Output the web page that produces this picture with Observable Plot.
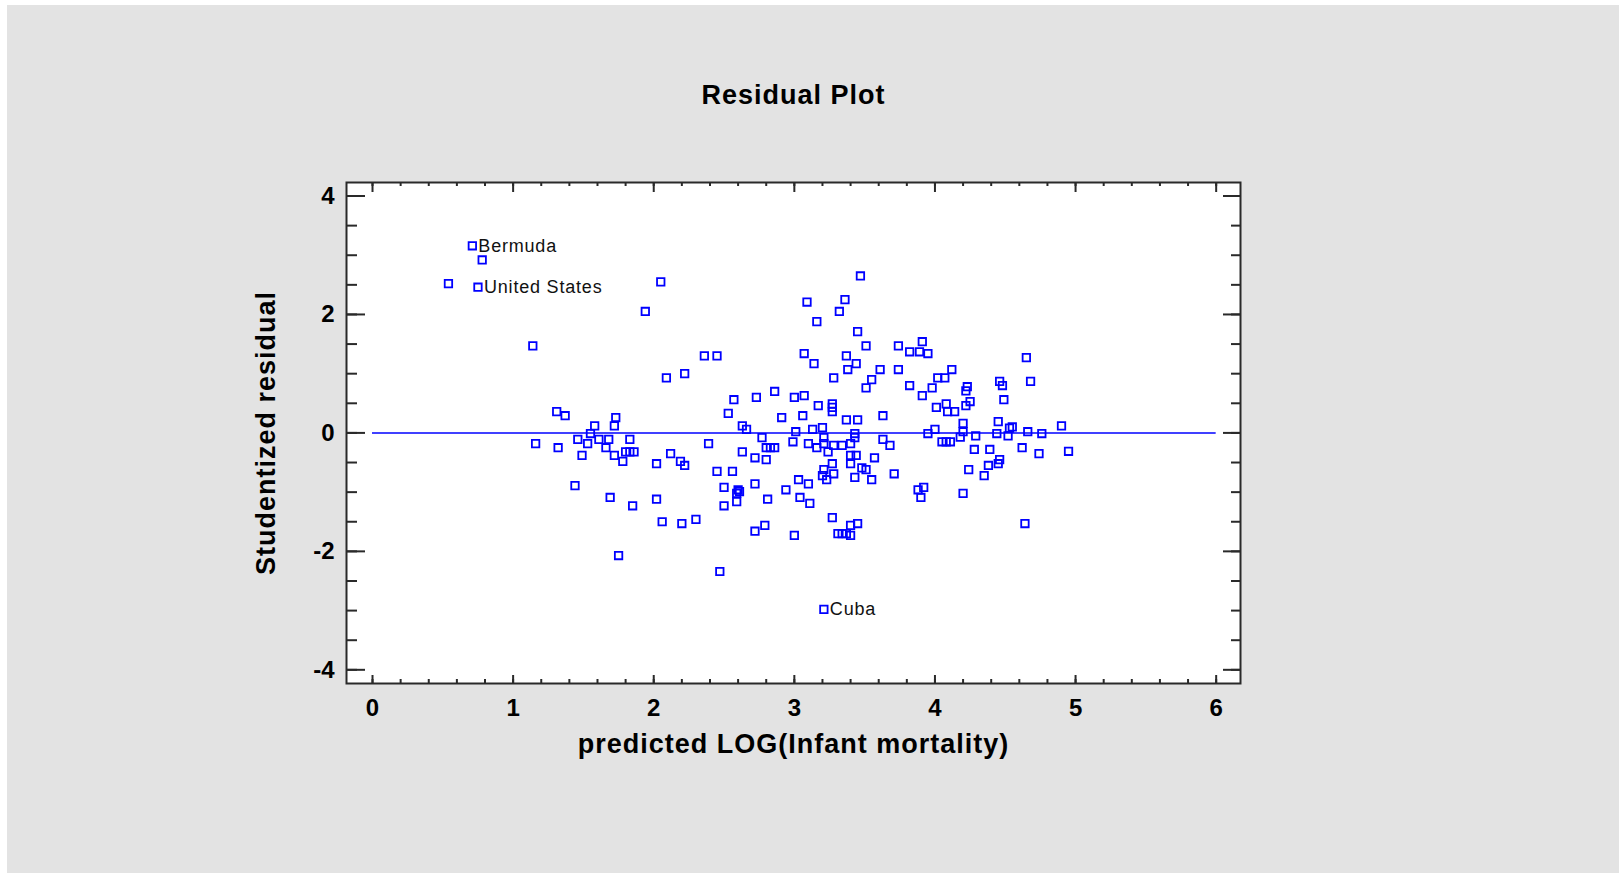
<!DOCTYPE html>
<html>
<head>
<meta charset="utf-8">
<script src="https://cdn.jsdelivr.net/npm/d3@7"></script>
<script src="https://cdn.jsdelivr.net/npm/@observablehq/plot@0.6"></script>
<style>
  html, body { margin: 0; padding: 0; background: #ffffff; }
  #wrap { position: absolute; left: 7px; top: 5px; width: 1612px; height: 868px; background: #e3e3e3; overflow: hidden; }
</style>
</head>
<body>
<div id="wrap"></div>
<script>
// Predicted LOG(Infant mortality) and studentized residuals
const predicted = [
  0.78, 0.54, 1.94, 1.14, 1.31, 1.37, 2.05, 3.47, 3.09, 3.36, 3.32, 3.16, 3.45, 3.51, 3.74, 3.91,
  3.82, 3.89, 3.95, 2.36, 2.45, 3.07, 3.14, 3.37, 3.44, 3.38, 2.09, 2.22, 3.28, 3.61, 3.74, 3.55,
  3.51, 3.82, 3.91, 3.98, 4.02, 4.07, 4.12, 4.01, 4.08, 4.09, 4.14, 2.57, 2.73, 2.86, 3.00, 3.07,
  3.17, 3.27, 3.27, 3.27, 2.53, 2.91, 3.06, 3.37, 3.45, 3.63, 4.65, 4.68, 4.46, 4.48, 4.49, 4.23,
  4.22, 4.25, 4.22, 4.20, 4.45, 4.90, 4.55, 4.53, 4.20, 4.18, 4.29, 4.44, 4.52, 4.66, 4.76, 4.00,
  3.95, 4.05, 4.08, 4.11, 4.28, 4.39, 4.62, 4.74, 4.95, 4.46, 4.45, 4.38, 4.24, 4.35, 4.20, 4.64,
  3.63, 3.68, 3.71, 3.92, 3.88, 3.90, 2.63, 2.66, 3.01, 3.13, 3.20, 3.43, 3.43, 2.39, 2.77, 2.80,
  2.83, 2.86, 2.99, 3.10, 3.16, 3.21, 3.21, 3.24, 3.28, 3.34, 3.40, 3.40, 3.44, 2.63, 2.72, 2.80,
  3.40, 3.27, 3.57, 3.21, 3.28, 3.20, 3.23, 3.48, 3.51, 3.43, 3.55, 2.45, 2.56, 2.72, 2.50, 2.60,
  2.59, 2.61, 3.03, 3.10, 2.94, 2.59, 2.50, 2.81, 3.04, 3.11, 3.27, 2.72, 2.79, 3.00, 3.31, 3.34,
  3.37, 3.40, 3.45, 3.40, 2.47, 1.58, 1.55, 1.73, 1.72, 1.16, 1.32, 1.46, 1.53, 1.61, 1.68, 1.83,
  1.49, 1.66, 1.72, 1.78, 1.80, 1.83, 1.86, 2.02, 2.12, 2.19, 2.22, 1.44, 1.69, 1.85, 2.02, 2.06,
  2.20, 2.30, 1.75
];
const residual = [
  2.92, 2.52, 2.05, 1.47, 0.36, 0.29, 2.55, 2.65, 2.21, 2.25, 2.05, 1.88, 1.71, 1.47, 1.47, 1.54,
  1.37, 1.37, 1.34, 1.30, 1.30, 1.34, 1.17, 1.30, 1.17, 1.07, 0.93, 1.00, 0.93, 1.07, 1.07, 0.90,
  0.76, 0.80, 0.63, 0.76, 0.93, 0.93, 1.07, 0.43, 0.49, 0.36, 0.36, 0.56, 0.60, 0.70, 0.60, 0.63,
  0.46, 0.49, 0.43, 0.36, 0.33, 0.26, 0.29, 0.22, 0.22, 0.29, 1.27, 0.87, 0.87, 0.80, 0.56, 0.78,
  0.71, 0.53, 0.46, 0.16, 0.19, 0.12, 0.10, 0.08, 0.02, -0.07, -0.05, -0.01, -0.05, 0.02, -0.01, 0.06,
  -0.01, -0.15, -0.15, -0.15, -0.28, -0.28, -0.25, -0.35, -0.31, -0.45, -0.52, -0.55, -0.62, -0.72, -1.02, -1.53,
  -0.11, -0.21, -0.69, -0.92, -0.96, -1.09, 0.12, 0.06, 0.02, 0.06, 0.09, -0.01, -0.08, -0.18, -0.08, -0.25,
  -0.25, -0.25, -0.15, -0.18, -0.25, -0.08, -0.18, -0.32, -0.21, -0.21, -0.18, -0.38, -0.38, -0.32, -0.42, -0.45,
  -0.52, -0.52, -0.42, -0.62, -0.69, -0.72, -0.79, -0.59, -0.62, -0.75, -0.79, -0.65, -0.65, -0.86, -0.92, -0.96,
  -1.02, -0.99, -0.79, -0.86, -0.96, -1.16, -1.23, -1.12, -1.09, -1.19, -1.43, -1.66, -1.56, -1.73, -1.70, -1.70,
  -1.70, -1.56, -1.53, -1.73, -2.34, 0.12, -0.01, 0.26, 0.12, -0.18, -0.25, -0.11, -0.18, -0.11, -0.11, -0.11,
  -0.38, -0.25, -0.38, -0.48, -0.32, -0.32, -0.32, -0.52, -0.35, -0.48, -0.55, -0.89, -1.09, -1.23, -1.12, -1.50,
  -1.53, -1.46, -2.07
];
// Labelled countries
const labelNames = ["Bermuda", "United States", "Cuba"];
const labelPredicted = [0.71, 0.75, 3.21];
const labelResidual = [3.16, 2.46, -2.98];

// Axis ticks
const xMajor = [0, 1, 2, 3, 4, 5, 6];
const xMinor = d3.range(0, 30.5, 1).map(i => i / 5);
const yMajor = [-4, -2, 0, 2, 4];
const yMinor = d3.range(-8, 8.5, 1).map(i => i / 2);

const W = 1612, H = 868;
const mL = 339, mR = 379, mT = 177, mB = 190;
const iW = W - mL - mR, iH = H - mT - mB;

const points = predicted.map((x, i) => ({x, y: residual[i]}));
const labelled = labelNames.map((name, i) => ({name, x: labelPredicted[i], y: labelResidual[i]}));
const allPoints = points.concat(labelled);

const blue = "#0000ff";
const ink = "#2a2a2a";
const font = "'Liberation Sans', Arial, sans-serif";

const chart = Plot.plot({
  width: W,
  height: H,
  marginLeft: mL, marginRight: mR, marginTop: mT, marginBottom: mB,
  style: {background: "transparent", fontFamily: font, color: "#000"},
  x: {domain: [-0.185, 6.173]},
  y: {domain: [-4.231, 4.228]},
  marks: [
    Plot.frame({fill: "white"}),
    Plot.ruleY([0], {x1: 0, x2: 6, stroke: blue, strokeWidth: 1.5}),
    Plot.dot(allPoints, {x: "x", y: "y", symbol: "square", r: 4.2, stroke: blue, strokeWidth: 1.8, fill: "none"}),
    Plot.text(labelled, {x: "x", y: "y", text: "name", textAnchor: "start", lineAnchor: "middle", dx: 6, fontSize: 18, fill: "#111", fontFamily: font}),
    // bottom ticks
    Plot.ruleX(xMinor, {insetTop: iH - 4, stroke: ink, strokeWidth: 2}),
    Plot.ruleX(xMajor, {insetTop: iH - 8, stroke: ink, strokeWidth: 2}),
    // top ticks
    Plot.ruleX(xMinor, {insetBottom: iH - 4, stroke: ink, strokeWidth: 2}),
    Plot.ruleX(xMajor, {insetBottom: iH - 10, stroke: ink, strokeWidth: 2}),
    // left ticks
    Plot.ruleY(yMinor, {insetRight: iW - 11, stroke: ink, strokeWidth: 2}),
    Plot.ruleY(yMajor, {insetRight: iW - 19, stroke: ink, strokeWidth: 2}),
    // right ticks
    Plot.ruleY(yMinor, {insetLeft: iW - 9, stroke: ink, strokeWidth: 2}),
    Plot.ruleY(yMajor, {insetLeft: iW - 17, stroke: ink, strokeWidth: 2}),
    Plot.frame({stroke: ink, strokeWidth: 2}),
    Plot.axisX(xMajor, {anchor: "bottom", tickSize: 0, tickPadding: 15, fontSize: 24, fontWeight: "bold", tickFormat: d => String(d), label: null}),
    Plot.axisY(yMajor, {anchor: "left", tickSize: 0, tickPadding: 12, fontSize: 24, fontWeight: "bold", tickFormat: d => String(d), label: null}),
    Plot.text(["predicted LOG(Infant mortality)"], {frameAnchor: "bottom", textAnchor: "middle", lineAnchor: "middle", dy: 61, fontSize: 27, fontWeight: "bold", fill: "#000"}),
    Plot.text(["Studentized residual"], {frameAnchor: "left", textAnchor: "middle", lineAnchor: "middle", dx: -80, rotate: -90, fontSize: 27, fontWeight: "bold", fill: "#000"}),
    Plot.text(["Residual Plot"], {frameAnchor: "top", textAnchor: "middle", lineAnchor: "middle", dy: -87, fontSize: 27, fontWeight: "bold", fill: "#000"})
  ]
});
// slight letter spacing to match the original's wider type
const spacing = {"predicted LOG(Infant mortality)": 1, "Studentized residual": 1, "Residual Plot": 1, "Bermuda": 0.8, "United States": 0.8, "Cuba": 0.8};
d3.select(chart).selectAll("text").each(function() {
  const t = this.textContent;
  if (spacing[t] != null) this.setAttribute("letter-spacing", spacing[t]);
});
document.getElementById("wrap").appendChild(chart);
</script>
</body>
</html>
